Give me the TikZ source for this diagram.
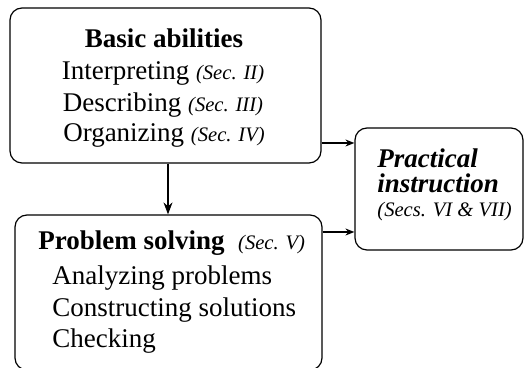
\documentclass[tikz,border=0pt]{standalone}
\usepackage{fontspec}
\setmainfont{Liberation Serif}
\usetikzlibrary{arrows.meta}

\newcommand{\secnote}[1]{{\fontsize{10.3pt}{12pt}\selectfont\itshape #1}}

\tikzset{
  box/.style={draw, rounded corners=6pt, line width=0.6pt, inner sep=0pt},
  txt/.style={inner sep=0pt, font=\fontsize{13.5pt}{16pt}\selectfont},
  flow/.style={line width=0.6pt, -{Stealth[length=4.5pt, width=3.5pt]}}
}

\begin{document}
\begin{tikzpicture}[x=0.5pt, y=-0.5pt]

 \useasboundingbox (0,0) rectangle (525,368);

 % The three boxes
 \node [box, minimum width=155.5pt, minimum height=77.5pt] (abilities) at (165.5,85.5) {};
 \node [box, minimum width=153.5pt, minimum height=77.5pt] (solving) at (168.5,292.5) {};
 \node [box, minimum width=84pt, minimum height=61pt] (practice) at (439,189) {};

 % Basic abilities
 \node [txt, anchor=base] (basic) at (164,48) {\bfseries Basic abilities};
 \node [txt, anchor=base] (interp) at (163,80) {Interpreting \secnote{(Sec. II)}};
 \node [txt, anchor=base] (descr) at (163,112) {Describing \secnote{(Sec. III)}};
 \node [txt, anchor=base] (organ) at (164,142) {Organizing \secnote{(Sec. IV)}};

 % Problem solving
 \node [txt, anchor=base west] (problem) at (38,250) {\bfseries Problem solving\ \ \mdseries\secnote{(Sec. V)}};
 \node [txt, anchor=base west] (analyz) at (52,285) {Analyzing problems};
 \node [txt, anchor=base west] (constr) at (52,317) {Constructing solutions};
 \node [txt, anchor=base west] (check) at (52,348) {Checking};

 % Practical instruction
 \node [txt, anchor=base west] (pract) at (377,168) {\bfseries\itshape Practical};
 \node [txt, anchor=base west] (instr) at (377,193) {\bfseries\itshape instruction};
 \node [txt, anchor=base west] (secs) at (377,217) {\secnote{(Secs. VI \& VII)}};

 % Connectors
 \coordinate (a1) at ([yshift=-28.75pt]abilities.east);
 \coordinate (s1) at ([yshift=30.25pt]solving.east);
 \coordinate (a2) at ([xshift=1.25pt]abilities.south);
 \draw [flow] (a1) -- (a1 -| practice.west);
 \draw [flow] (s1) -- (s1 -| practice.west);
 \draw [flow, -{Stealth[length=6pt, width=4.5pt]}] (a2) -- (a2 |- solving.north);

\end{tikzpicture}
\end{document}
